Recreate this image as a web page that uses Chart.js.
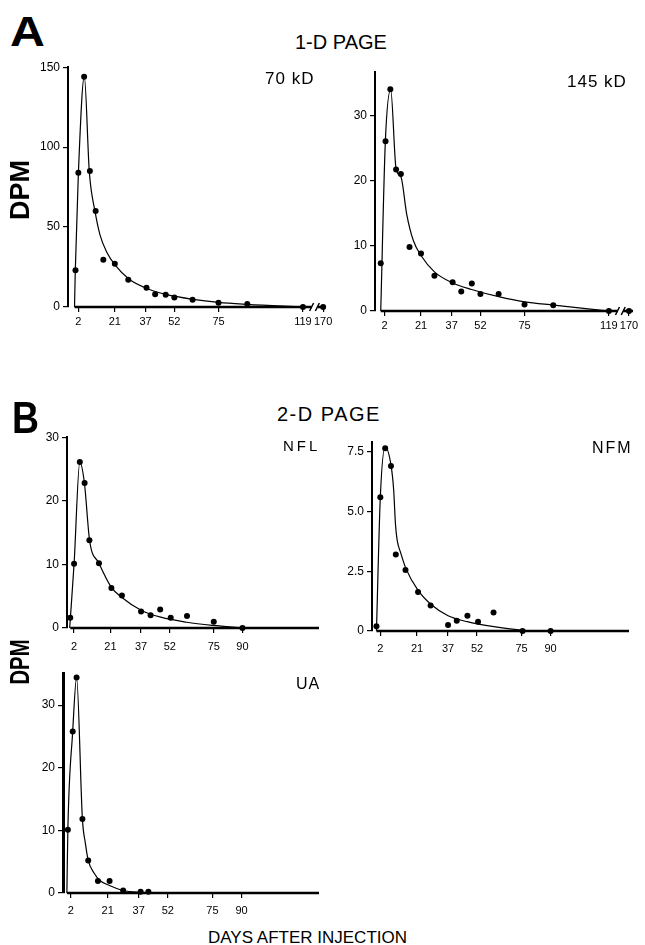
<!doctype html>
<html lang="en">
<head>
<meta charset="utf-8">
<title>DPM after injection</title>
<script src="https://cdn.jsdelivr.net/npm/chart.js"></script>
<style>
  body { margin: 0; background: #fff; }
  #fig { position: relative; width: 645px; height: 945px; overflow: hidden;
         font-family: "Liberation Sans", Arial, sans-serif; color: #000; }
  #fig canvas { position: absolute; }
  .lbl { position: absolute; line-height: 1; white-space: nowrap; }
  .big { font-weight: bold; transform-origin: 0 0; }
  .dpm { font-weight: bold; font-size: 27px; }
</style>
</head>
<body>
<div id="fig">
  <canvas id="c70"></canvas>
  <canvas id="c145"></canvas>
  <canvas id="cNFL"></canvas>
  <canvas id="cNFM"></canvas>
  <canvas id="cUA"></canvas>

  <div class="lbl big" style="left:10px;top:10.5px;font-size:42px;transform:scaleX(1.15)">A</div>
  <div class="lbl" style="left:295px;top:32.4px;font-size:20px">1-D PAGE</div>
  <div class="lbl" style="left:265px;top:69.8px;font-size:17px;letter-spacing:1px">70 kD</div>
  <div class="lbl" style="left:567px;top:72.8px;font-size:17px;letter-spacing:1px">145 kD</div>
  <div class="lbl dpm" style="left:20px;top:190px;transform:translate(-50%,-50%) rotate(-90deg)">DPM</div>

  <div class="lbl big" style="left:12px;top:396px;font-size:44px;transform:scaleX(0.85)">B</div>
  <div class="lbl" style="left:277px;top:404.4px;font-size:20px;letter-spacing:1.5px">2-D PAGE</div>
  <div class="lbl" style="left:283px;top:438px;font-size:15px;letter-spacing:3px">NFL</div>
  <div class="lbl" style="left:592px;top:440px;font-size:16px;letter-spacing:2px">NFM</div>
  <div class="lbl" style="left:296px;top:676px;font-size:16px;letter-spacing:1px">UA</div>
  <div class="lbl dpm" style="left:20px;top:662px;transform:translate(-50%,-50%) rotate(-90deg) scaleX(0.75)">DPM</div>

  <div class="lbl" style="left:208px;top:928.8px;font-size:17px">DAYS AFTER INJECTION</div>
</div>

<script>
// A: 1-D PAGE, 70 kD
const days70 = [0.5, 2, 5, 8, 11, 15, 21, 28, 37.5, 42, 47.5, 52, 61.5, 75, 90, 119, 170];
const dpm70 = [23, 84, 144, 85, 60, 29.5, 27, 17, 12, 8, 7.7, 6, 4.6, 2.6, 1.9, 0, 0];
const fitDays70 = [0, 0.4, 2, 5.1, 7.7, 10.7, 13.3, 16.8, 21.3, 28.3, 37.7, 47.6, 61.7, 75, 89.8, 119];
const fit70 = [0, 22.9, 83.5, 144.2, 84.6, 59.6, 45, 34.3, 26, 17.5, 11.6, 7.9, 4.8, 2.9, 1.7, 0];

// A: 1-D PAGE, 145 kD
const days145 = [0, 2.5, 5, 8, 10.5, 15, 21, 28, 37.5, 42, 47.5, 52, 61.5, 75, 90, 119, 170];
const dpm145 = [7.3, 26, 34, 21.7, 21, 9.8, 8.8, 5.4, 4.4, 3, 4.2, 2.6, 2.6, 1, 0.9, 0, 0];
const fitDays145 = [0, 2.4, 5.2, 8, 10.6, 13.5, 17, 21, 28, 37.5, 47.4, 61.5, 75, 90.3, 119];
const fit145 = [0, 26, 33.9, 21.8, 20.5, 14.9, 10.8, 8.5, 6, 4.3, 3.3, 2.2, 1.4, 0.9, 0];

// B: 2-D PAGE, NFL
const daysNFL = [0, 2, 5, 7.5, 10, 15, 21.5, 27, 37, 42, 47, 52.5, 61, 75, 90];
const dpmNFL = [1.6, 10.1, 26.1, 22.8, 13.8, 10.2, 6.3, 5.1, 2.6, 2.0, 2.9, 1.6, 1.9, 1.0, 0];
const fitDaysNFL = [-0.3, 2, 5, 7.4, 10.1, 15, 21.5, 27, 37, 47.3, 61, 74.7, 90];
const fitNFL = [0, 10.1, 26.1, 22.8, 13.8, 10.2, 6.4, 4.8, 2.8, 1.7, 0.9, 0.4, 0];

// B: 2-D PAGE, NFM
const daysNFM = [0, 2, 4.5, 7.5, 10, 15, 21.5, 28, 37, 41.5, 47, 52.5, 60.5, 75.5, 90];
const dpmNFM = [0.2, 5.6, 7.65, 6.9, 3.2, 2.55, 1.63, 1.07, 0.25, 0.43, 0.64, 0.39, 0.77, 0, 0];
const fitDaysNFM = [0, 2, 4.5, 7.5, 8.9, 9.8, 10.7, 12.4, 15.3, 21.5, 28.4, 37, 46.9, 60.7, 75.7, 90];
const fitNFM = [0, 5.6, 7.7, 6.95, 5.9, 4.5, 3.8, 3.3, 2.6, 1.7, 1.1, 0.64, 0.39, 0.18, 0.03, 0];

// B: 2-D PAGE, UA
const daysUA = [0.5, 3, 5, 8, 11, 16, 22, 29, 38, 42];
const dpmUA = [10.1, 25.8, 34.4, 11.8, 5.2, 1.9, 1.9, 0.4, 0.2, 0.2];
const fitDaysUA = [0, 0.5, 3, 5, 8, 9.5, 11, 14, 17, 22, 29, 38, 46.5];
const fitUA = [0, 10.1, 25.8, 34.4, 11.8, 8, 5.2, 3.2, 2.0, 1.2, 0.4, 0.1, 0];

// tick labels
const ticksA = [2, 21, 37, 52, 75, 119, 170];
const ticksB = [2, 21, 37, 52, 75, 90];
const yTicks70 = [0, 50, 100, 150];
const yTicks145 = [0, 10, 20, 30];
const yTicksNFL = [0, 10, 20, 30];
const yTicksNFM = [0, 2.5, 5, 7.5];
const yTicksUA = [0, 10, 20, 30];

// broken x axis: 119..170 squeezed into a short stretch
const brk = d => d <= 119 ? d : 119 + (d - 119) * 10.5 / 51;
const pts = (xs, ys) => xs.map((d, i) => ({ x: brk(d), y: ys[i] }));

const FAMILY = '"Liberation Sans", Arial, sans-serif';

// x axis line starts at day 0, plus the "//" break marks
const axisLine = {
    id: 'axisLine',
    beforeDatasetsDraw(chart, args, opts) {
        const { ctx, chartArea, scales: { x, y } } = chart;
        const y0 = y.getPixelForValue(0);
        ctx.save();
        ctx.strokeStyle = '#000';
        ctx.lineWidth = 2.5;
        ctx.beginPath();
        ctx.moveTo(x.getPixelForValue(0), y0);
        ctx.lineTo(chartArea.right, y0);
        ctx.stroke();
        if (opts.gap) {
            const a = x.getPixelForValue(opts.gap[0]);
            const b = x.getPixelForValue(opts.gap[1]);
            ctx.fillStyle = '#fff';
            ctx.fillRect(a, y0 - 2, b - a, 4);
            ctx.lineWidth = 1.5;
            ctx.beginPath();
            [a, b].forEach(p => { ctx.moveTo(p - 2, y0 + 4); ctx.lineTo(p + 2, y0 - 4); });
            ctx.stroke();
        }
        ctx.restore();
    }
};

function panel(id, box, o) {
    const padL = 45, padT = 10, padR = 12, padB = 30;
    const cv = document.getElementById(id);
    const w = Math.round(box[2] - box[0] + padL + padR);
    const h = Math.round(box[3] - box[1] + padT + padB);
    cv.width = w; cv.height = h;
    cv.style.width = w + 'px'; cv.style.height = h + 'px';
    cv.style.left = (box[0] - padL) + 'px';
    cv.style.top = (box[1] - padT) + 'px';

    return new Chart(cv, {
        type: 'scatter',
        data: {
            datasets: [{
                data: pts(o.fitX, o.fitY),
                showLine: true,
                pointRadius: 0,
                borderColor: '#000',
                borderWidth: 1.2,
                cubicInterpolationMode: 'monotone',
                clip: false
            }, {
                data: pts(o.x, o.y),
                pointRadius: 3,
                backgroundColor: '#000',
                borderColor: '#000',
                borderWidth: 0,
                clip: false
            }]
        },
        options: {
            responsive: false,
            animation: false,
            devicePixelRatio: 1,
            layout: { padding: { left: 0, top: padT, right: padR, bottom: 0 }, autoPadding: false },
            plugins: { legend: { display: false }, tooltip: { enabled: false }, axisLine: { gap: o.gap } },
            scales: {
                x: {
                    type: 'linear', min: o.xMin, max: o.xMax,
                    afterFit: s => { s.height = padB; },
                    afterBuildTicks: s => { s.ticks = o.xTicks.map(v => ({ value: brk(v) })); },
                    grid: { drawOnChartArea: false, tickLength: 5, color: '#000', lineWidth: 1.2 },
                    border: { display: false },
                    ticks: {
                        font: { family: FAMILY, size: 11 }, color: '#000', padding: o.xPad,
                        maxRotation: 0, autoSkip: false,
                        callback: (v, i) => o.xTicks[i]
                    }
                },
                y: {
                    min: 0, max: o.yMax,
                    afterFit: s => { s.width = padL; },
                    afterBuildTicks: s => { s.ticks = o.yTicks.map(v => ({ value: v })); },
                    grid: { drawOnChartArea: false, tickLength: 5, color: '#000', lineWidth: 1.2 },
                    border: { display: true, color: '#000', width: o.yw || 2 },
                    ticks: {
                        font: { family: FAMILY, size: 12 }, color: '#000', padding: 3,
                        callback: v => (v === 0 || Number.isInteger(o.yTicks[1])) ? String(v) : v.toFixed(1)
                    }
                }
            }
        },
        plugins: [axisLine]
    });
}

panel('c70', [68, 67, 325.7, 307], {
    x: days70, y: dpm70, fitX: fitDays70, fitY: fit70,
    xMin: -3.4, xMax: 131, yMax: 150, xTicks: ticksA, yTicks: yTicks70, xPad: 3, gap: [123.5, 126.5]
});
panel('c145', [375, 72, 633.4, 310.7], {
    x: days145, y: dpm145, fitX: fitDays145, fitY: fit145,
    xMin: -3, xMax: 131.6, yMax: 36.6, xTicks: ticksA, yTicks: yTicks145, xPad: 3, gap: [123.5, 126.5]
});
panel('cNFL', [66.7, 437.3, 318.3, 628.3], {
    x: daysNFL, y: dpmNFL, fitX: fitDaysNFL, fitY: fitNFL,
    xMin: -1.7, xMax: 130, yMax: 30, xTicks: ticksB, yTicks: yTicksNFL, xPad: 7
});
panel('cNFM', [371.7, 441.7, 628.3, 631], {
    x: daysNFM, y: dpmNFM, fitX: fitDaysNFM, fitY: fitNFM,
    xMin: -2.3, xMax: 130.5, yMax: 7.9, xTicks: ticksB, yTicks: yTicksNFM, xPad: 6
});
panel('cUA', [62.7, 673.3, 318.3, 893.3], {
    x: daysUA, y: dpmUA, fitX: fitDaysUA, fitY: fitUA,
    xMin: -2, xMax: 129.9, yMax: 35.1, xTicks: ticksB, yTicks: yTicksUA, xPad: 6, yw: 3
});
</script>
</body>
</html>
